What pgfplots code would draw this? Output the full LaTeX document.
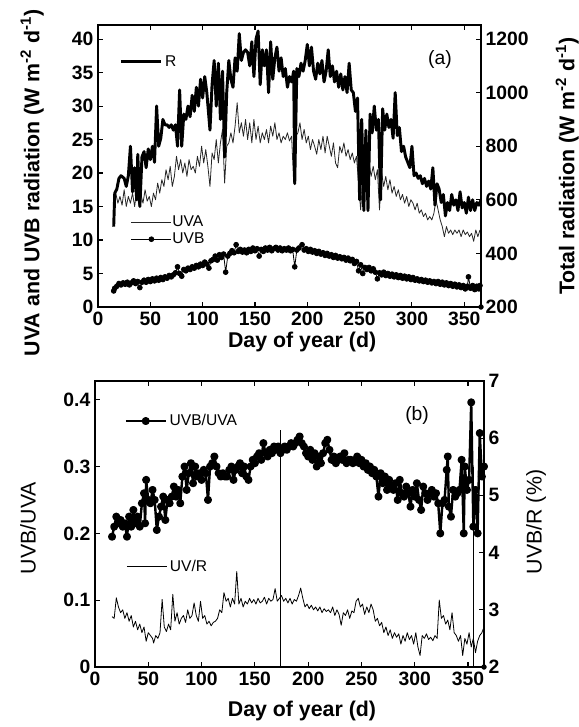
\documentclass[border=0pt]{standalone}
\usepackage{pgfplots}
\pgfplotsset{compat=1.18}
\usepackage{fontspec}
\setmainfont{Liberation Sans}

\pgfplotsset{
  every axis/.append style={
    scale only axis, tick align=inside, major tick length=3.75pt,
    axis line style={line width=0.8pt}, every tick/.style={black,line width=0.8pt},
    /pgf/number format/assume math mode=true, /pgf/number format/1000 sep={},
    ticklabel style={font=\bfseries\fontsize{14.5}{14.5}\selectfont},
    label style={font=\fontsize{16}{16}\selectfont},
  },
  midlegend/.style={legend image code/.code={%
    \draw[mark repeat=2,mark phase=2,##1] plot coordinates {(0pt,0pt) (15pt,0pt) (30pt,0pt)};}},
}

\begin{document}
\begin{tikzpicture}
\path[use as bounding box] (0,0) rectangle (433.5pt,545.25pt);

% ---------- panel (a) ----------
\begin{axis}[
  at={(73.5pt,315pt)}, anchor=south west, width=287.25pt, height=211.5pt,
  xmin=0, xmax=366, ymin=0, ymax=42.1,
  xtick={0,50,...,350}, ytick={0,5,...,40}, xtick pos=both, ytick pos=left,
  xlabel={\bfseries Day of year (d)},
  ylabel={\bfseries UVA and UVB radiation (W m\textsuperscript{-2} d\textsuperscript{-1})},
  xlabel style={at={(axis description cs:0.533,-0.125)}, anchor=center},
  ylabel style={at={(axis description cs:-0.172,0.44)}, anchor=center},
  legend style={at={(axis description cs:0.075,0.27)}, anchor=west, draw=none, fill=none,
    font=\fontsize{11.7}{11.7}\selectfont, nodes={inner sep=0.5pt}, row sep=2pt},
  legend cell align=left, midlegend,
]
\addplot[black!85, line width=0.6pt, line join=round] coordinates {
(17,17.0) (19,15.5) (21,16.5) (23,15.2) (25,17.5) (27,15.0) (29,16.5) (31,15.5) (33,17.0) (35,15.0)
(37,17.5) (39,15.2) (41,16.8) (43,15.5) (45,17.5) (47,15.8) (49,16.5) (51,15.0) (53,17.0) (55,16.0)
(57,18.5) (59,17.0) (61,19.0) (63,18.0) (65,20.5) (67,19.0) (69,21.0) (71,18.0) (73,19.5) (75,22.5)
(77,20.5) (79,22.0) (81,20.0) (83,21.5) (85,19.5) (87,22.0) (89,20.5) (91,21.0) (93,20.0) (95,22.5)
(97,21.0) (99,24.0) (101,21.5) (103,23.5) (105,21.0) (107,18.0) (109,23.0) (111,22.0) (113,25.0) (115,21.5)
(117,24.5) (119,26.5) (121,18.5) (123,24.0) (125,24.5) (127,26.0) (129,24.5) (131,27.0) (133,30.5) (135,26.0)
(137,27.5) (139,25.5) (141,28.0) (143,25.0) (145,27.5) (147,24.5) (149,28.0) (151,25.0) (153,27.0) (155,24.5)
(157,26.0) (159,25.0) (161,26.5) (163,24.5) (165,27.0) (167,25.5) (169,27.5) (171,25.0) (173,26.0) (175,24.5)
(177,25.5) (179,25.0) (181,26.0) (183,24.8) (185,25.5) (187,18.5) (189,25.5) (191,26.0) (193,27.5) (195,25.0)
(197,26.5) (199,24.5) (201,25.5) (203,23.5) (205,25.0) (207,24.0) (209,22.8) (211,25.0) (213,23.5) (215,25.5)
(217,23.0) (219,25.5) (221,24.0) (223,22.5) (225,24.5) (227,21.5) (229,20.8) (231,24.0) (233,23.0) (235,24.5)
(237,22.5) (239,23.5) (241,22.0) (243,23.0) (245,21.5) (247,22.5) (249,18.5) (251,14.5) (253,19.0) (255,21.5)
(257,20.0) (259,21.5) (261,19.5) (263,21.0) (265,19.0) (267,20.5) (269,14.5) (271,20.0) (273,18.0) (275,19.5)
(277,17.5) (279,19.0) (281,17.0) (283,18.0) (285,16.5) (287,17.5) (289,16.0) (291,16.8) (293,15.5) (295,16.5)
(297,15.0) (299,16.0) (301,15.5) (303,14.5) (305,15.5) (307,14.0) (309,14.5) (311,13.5) (313,14.0) (315,13.0)
(317,13.5) (319,13.0) (321,14.0) (323,16.0) (325,14.5) (327,13.0) (329,12.0) (331,10.5) (333,12.0) (335,11.0)
(337,11.5) (339,10.8) (341,11.5) (343,11.0) (345,11.5) (347,10.5) (349,11.5) (351,10.8) (353,11.2) (355,10.5)
(357,11.0) (359,9.8) (361,11.5) (363,10.5) (365,11.5)
};
\addlegendentry{UVA}
\addplot[black, line width=0.6pt, mark=*, mark size=1.8pt] coordinates {
(15,2.4) (16,2.8) (18,3.1) (20,3.5) (22,3.3) (24,3.6) (26,3.4) (28,3.7) (30,3.3) (32,3.6)
(34,3.9) (36,3.5) (38,3.8) (40,2.9) (42,3.7) (44,4.0) (46,3.7) (48,4.1) (50,3.8) (52,4.2)
(54,3.9) (56,4.3) (58,4.0) (60,4.4) (62,4.1) (64,4.5) (66,4.3) (68,4.7) (70,4.5) (72,4.8)
(74,5.1) (76,6.0) (78,5.0) (80,4.6) (82,5.6) (84,5.4) (86,5.8) (88,5.6) (90,6.0) (92,5.8)
(94,6.2) (96,6.0) (98,6.4) (100,6.2) (102,6.7) (104,6.4) (106,5.8) (108,6.9) (110,7.1) (112,7.6)
(114,7.0) (116,7.8) (118,7.4) (120,7.9) (122,5.2) (124,7.6) (126,8.0) (128,8.4) (130,8.1) (132,9.3)
(134,8.3) (136,8.6) (138,8.2) (140,8.5) (142,8.1) (144,8.6) (146,8.3) (148,8.8) (150,8.4) (152,8.7)
(154,7.6) (156,8.6) (158,8.3) (160,8.8) (162,8.5) (164,8.9) (166,8.4) (168,8.7) (170,8.9) (172,8.5)
(174,8.8) (176,8.4) (178,8.7) (180,8.5) (182,8.8) (184,8.4) (186,8.6) (188,6.0) (190,8.5) (192,8.8)
(195,9.3) (197,8.5) (199,8.7) (201,8.3) (203,8.6) (205,8.2) (207,8.4) (209,8.0) (211,8.3) (213,7.9)
(215,8.1) (217,7.7) (219,8.0) (221,7.6) (223,7.8) (225,7.4) (227,7.7) (229,7.3) (231,7.5) (233,7.2)
(235,7.4) (237,7.0) (239,7.3) (241,6.9) (243,7.1) (245,6.5) (247,6.8) (249,5.4) (251,6.3) (253,5.0)
(255,5.9) (257,5.6) (259,5.9) (261,5.4) (263,5.7) (265,5.2) (267,4.2) (269,5.1) (271,4.8) (273,5.2)
(275,4.7) (277,5.0) (279,4.6) (281,4.9) (283,4.5) (285,4.8) (287,4.4) (289,4.7) (291,4.3) (293,4.6)
(295,4.2) (297,4.5) (299,4.1) (301,4.4) (303,4.0) (305,4.2) (307,3.9) (309,4.1) (311,3.8) (313,4.0)
(315,3.7) (317,3.9) (319,3.6) (321,3.8) (323,3.5) (325,3.8) (327,3.4) (329,3.7) (331,3.3) (333,3.6)
(335,3.2) (337,3.5) (339,3.1) (341,3.4) (343,3.0) (345,3.3) (347,2.9) (349,3.2) (351,2.7) (353,3.1)
(354,4.5) (356,2.8) (358,3.2) (360,2.6) (362,3.1) (364,2.7) (365,3.2)
};
\addlegendentry{UVB}
\node[font=\fontsize{14.5}{14.5}\selectfont] at (axis description cs:0.893,0.876) {(a)};
\end{axis}

\begin{axis}[
  at={(73.5pt,315pt)}, anchor=south west, width=287.25pt, height=211.5pt,
  xmin=0, xmax=366, ymin=200, ymax=1252.5,
  axis x line=none, axis y line*=right, ytick={200,400,...,1200},
  ylabel={\bfseries Total radiation (W m\textsuperscript{-2} d\textsuperscript{-1})},
  ylabel style={at={(axis description cs:1.225,0.5)}, anchor=center},
  legend style={at={(axis description cs:0.045,0.87)}, anchor=west, draw=none, fill=none,
    font=\fontsize{11.7}{11.7}\selectfont},
  legend cell align=left, midlegend,
]
\addplot[black, line width=2.2pt, line join=round] coordinates {
(15,500) (16,625) (18,640) (20,680) (22,690) (25,680) (27,650) (29,690) (31,800) (33,630)
(35,720) (37,600) (38,770) (40,575) (42,760) (44,780) (46,720) (48,790) (50,750) (52,800)
(54,740) (56,950) (58,800) (60,830) (62,900) (64,880) (66,880) (68,870) (70,880) (72,860)
(74,880) (76,800) (78,1010) (80,800) (82,920) (84,900) (86,950) (88,910) (90,990) (92,930)
(94,1020) (96,950) (98,1050) (100,980) (102,1060) (104,1000) (107,860) (109,1030) (111,1120) (113,950)
(115,1110) (117,900) (119,1080) (121,760) (123,1000) (125,1120) (127,1050) (129,1020) (131,1130) (133,1080)
(135,1220) (137,1120) (139,1150) (141,1160) (143,1150) (145,1100) (147,1190) (149,1060) (151,1200) (153,1230)
(155,1030) (157,1160) (159,1100) (161,1160) (163,1000) (165,1190) (167,1050) (169,1130) (171,1170) (173,1080)
(175,1130) (177,1060) (179,1090) (181,1020) (183,1060) (185,1040) (187,1080) (188,660) (190,1090) (192,1060)
(194,1110) (196,1080) (198,1120) (200,1180) (202,1100) (204,1170) (206,1080) (208,1050) (210,1110) (212,1070)
(214,1120) (216,1040) (218,1080) (220,1160) (222,1060) (224,1100) (226,1040) (228,1080) (230,1020) (232,1070)
(234,1010) (236,1060) (238,1000) (240,1110) (242,1010) (244,1000) (246,930) (248,980) (250,600) (252,900)
(254,560) (256,860) (258,560) (260,920) (262,850) (264,950) (266,860) (268,900) (270,600) (272,940)
(274,860) (276,920) (278,870) (280,900) (282,830) (284,1000) (286,840) (288,870) (290,780) (292,800)
(294,760) (296,740) (298,720) (300,800) (302,690) (304,700) (306,680) (308,690) (310,660) (312,680)
(314,650) (316,670) (318,640) (320,720) (322,580) (324,660) (326,640) (328,590) (330,620) (332,540)
(334,590) (336,560) (338,620) (340,580) (342,600) (344,560) (346,630) (348,570) (350,590) (352,550)
(354,610) (356,560) (358,600) (360,560) (362,590) (364,580) (366,600)
};
\addlegendentry{R}
\addplot[only marks, mark=*, mark size=1.8pt, forget plot] coordinates {(366,200)};
\end{axis}

% ---------- panel (b) ----------
\begin{axis}[
  at={(71.25pt,45pt)}, anchor=south west, width=291.75pt, height=214.5pt,
  xmin=0, xmax=365, ymin=0, ymax=0.428,
  xtick={0,50,...,350}, ytick={0,0.1,...,0.4}, xtick pos=both, ytick pos=left,
  yticklabel style={/pgf/number format/fixed, /pgf/number format/precision=1},
  xlabel={\bfseries Day of year (d)}, ylabel={UVB/UVA},
  xlabel style={at={(axis description cs:0.532,-0.154)}, anchor=center},
  ylabel style={at={(axis description cs:-0.172,0.486)}, anchor=center},
  legend style={at={(axis description cs:0.065,0.86)}, anchor=west, draw=none, fill=none,
    font=\fontsize{11.7}{11.7}\selectfont},
  legend cell align=left, midlegend,
]
\addplot[black, line width=1.8pt, line join=round, mark=*, mark size=2.1pt] coordinates {
(16,0.195) (18,0.21) (20,0.225) (22,0.215) (24,0.22) (26,0.21) (28,0.215) (30,0.195) (32,0.225) (34,0.21)
(36,0.235) (38,0.215) (40,0.225) (42,0.21) (44,0.245) (46,0.26) (47,0.215) (48,0.28) (50,0.25) (52,0.245)
(54,0.265) (56,0.25) (58,0.205) (60,0.225) (62,0.24) (64,0.255) (66,0.22) (68,0.25) (70,0.245) (72,0.255)
(74,0.27) (76,0.255) (78,0.265) (80,0.245) (82,0.285) (84,0.30) (86,0.265) (88,0.29) (90,0.305) (92,0.275)
(94,0.30) (96,0.285) (98,0.29) (100,0.28) (102,0.295) (104,0.29) (106,0.25) (108,0.30) (110,0.305) (112,0.315)
(114,0.30) (116,0.29) (118,0.285) (120,0.29) (122,0.285) (124,0.285) (126,0.295) (128,0.30) (130,0.28) (132,0.295)
(134,0.30) (136,0.305) (138,0.29) (140,0.30) (142,0.285) (144,0.28) (146,0.30) (148,0.31) (150,0.305) (152,0.315)
(154,0.32) (156,0.31) (158,0.335) (160,0.32) (162,0.315) (164,0.325) (166,0.32) (168,0.33) (170,0.325) (172,0.33)
(174,0.32) (176,0.325) (178,0.33) (180,0.325) (182,0.33) (184,0.335) (186,0.33) (188,0.335) (190,0.34) (192,0.345)
(194,0.335) (196,0.33) (198,0.32) (200,0.315) (202,0.325) (204,0.31) (206,0.32) (208,0.30) (210,0.315) (212,0.305)
(214,0.32) (216,0.335) (218,0.34) (220,0.325) (222,0.31) (224,0.315) (226,0.305) (228,0.31) (230,0.315) (232,0.31)
(234,0.32) (236,0.305) (238,0.31) (240,0.31) (242,0.305) (244,0.31) (246,0.315) (248,0.305) (250,0.31) (252,0.30)
(254,0.305) (256,0.295) (258,0.30) (260,0.29) (262,0.295) (264,0.285) (266,0.255) (268,0.29) (270,0.275) (272,0.285)
(274,0.265) (276,0.28) (278,0.27) (280,0.265) (282,0.275) (284,0.25) (286,0.28) (288,0.26) (290,0.255) (292,0.27)
(294,0.26) (296,0.24) (298,0.265) (300,0.255) (302,0.275) (304,0.25) (306,0.235) (308,0.27) (310,0.26) (312,0.25)
(314,0.26) (316,0.265) (318,0.255) (320,0.26) (322,0.245) (324,0.20) (326,0.245) (328,0.25) (330,0.295) (331,0.315)
(332,0.24) (334,0.225) (336,0.265) (338,0.255) (340,0.26) (342,0.265) (344,0.31) (346,0.20) (347,0.30) (349,0.265)
(351,0.28) (353,0.396) (355,0.21) (357,0.265) (359,0.20) (361,0.35) (363,0.285) (365,0.30)
};
\addlegendentry{UVB/UVA}
\addplot[black, line width=0.6pt, forget plot] coordinates {(174,0) (174,0.355)};
\addplot[black, line width=0.6pt, forget plot] coordinates {(355,0) (355,0.30)};
\node[font=\fontsize{14.5}{14.5}\selectfont] at (axis description cs:0.828,0.881) {(b)};
\end{axis}

\begin{axis}[
  at={(71.25pt,45pt)}, anchor=south west, width=291.75pt, height=214.5pt,
  xmin=0, xmax=365, ymin=2, ymax=7,
  axis x line=none, axis y line*=right, ytick={2,3,...,7},
  ylabel={UVB/R (\%)},
  ylabel style={at={(axis description cs:1.134,0.507)}, anchor=center},
  legend style={at={(axis description cs:0.07,0.35)}, anchor=west, draw=none, fill=none,
    font=\fontsize{11.7}{11.7}\selectfont},
  legend cell align=left, midlegend,
]
\addplot[black, line width=0.6pt, line join=round] coordinates {
(16,2.88) (18,2.85) (20,3.21) (22,3.05) (24,2.95) (26,3.0) (28,2.85) (30,2.95) (32,2.8) (34,2.9)
(36,2.7) (38,2.8) (40,2.65) (42,2.75) (44,2.6) (46,2.7) (48,2.45) (50,2.6) (52,2.55) (54,2.5)
(55,2.42) (57,2.55) (59,2.5) (61,2.6) (63,3.18) (65,2.7) (67,2.62) (69,2.75) (71,2.65) (73,3.27)
(75,2.8) (77,2.95) (79,2.75) (81,2.85) (83,2.9) (85,2.78) (87,3.0) (89,2.85) (91,2.9) (93,3.12)
(95,2.9) (97,2.8) (99,3.15) (101,2.85) (103,2.9) (105,2.75) (107,2.8) (109,2.72) (111,2.78) (113,2.8)
(115,2.85) (117,3.0) (119,2.95) (121,3.3) (123,3.15) (125,3.2) (127,3.05) (129,3.2) (131,3.1) (133,3.67)
(135,3.1) (137,3.2) (139,3.05) (141,3.15) (143,3.1) (145,3.2) (147,3.12) (149,3.18) (151,3.1) (153,3.2)
(155,3.12) (157,3.15) (159,3.22) (161,3.1) (163,3.2) (165,3.15) (167,3.18) (169,3.37) (171,3.15) (173,3.2)
(175,3.25) (177,3.15) (179,3.2) (181,3.12) (183,3.2) (185,3.1) (187,3.18) (189,3.15) (191,3.25) (193,3.38)
(195,3.2) (197,3.05) (199,3.1) (201,3.02) (203,3.08) (205,3.0) (207,3.05) (209,2.98) (211,3.05) (213,2.95)
(215,3.02) (217,2.97) (219,3.0) (221,2.95) (223,3.05) (225,2.9) (227,3.0) (229,2.92) (231,2.73) (233,2.95)
(235,2.9) (237,3.0) (239,2.85) (241,2.98) (243,2.95) (245,3.15) (247,3.2) (249,3.05) (251,3.1) (253,2.92)
(255,3.05) (257,2.95) (259,3.1) (261,3.0) (263,2.8) (265,2.85) (267,2.72) (269,2.78) (271,2.6) (273,2.7)
(275,2.55) (277,2.65) (279,2.5) (281,2.6) (283,2.52) (285,2.58) (287,2.4) (289,2.55) (291,2.45) (293,2.6)
(295,2.48) (297,2.55) (299,2.4) (301,2.6) (303,2.35) (305,2.2) (307,2.55) (309,2.5) (311,2.58) (313,2.48)
(315,2.52) (317,2.46) (319,2.55) (321,2.5) (323,3.17) (325,2.85) (327,2.9) (329,2.75) (331,2.82) (333,2.65)
(335,2.95) (337,2.6) (339,2.55) (341,2.45) (343,2.55) (345,2.2) (347,2.5) (349,2.4) (351,2.6) (353,2.35)
(355,2.5) (357,2.25) (359,2.45) (361,2.55) (363,2.6) (365,2.7)
};
\addlegendentry{UV/R}
\addplot[only marks, mark=*, mark size=1.8pt, forget plot] coordinates {(365,2)};
\end{axis}
\end{tikzpicture}
\end{document}
